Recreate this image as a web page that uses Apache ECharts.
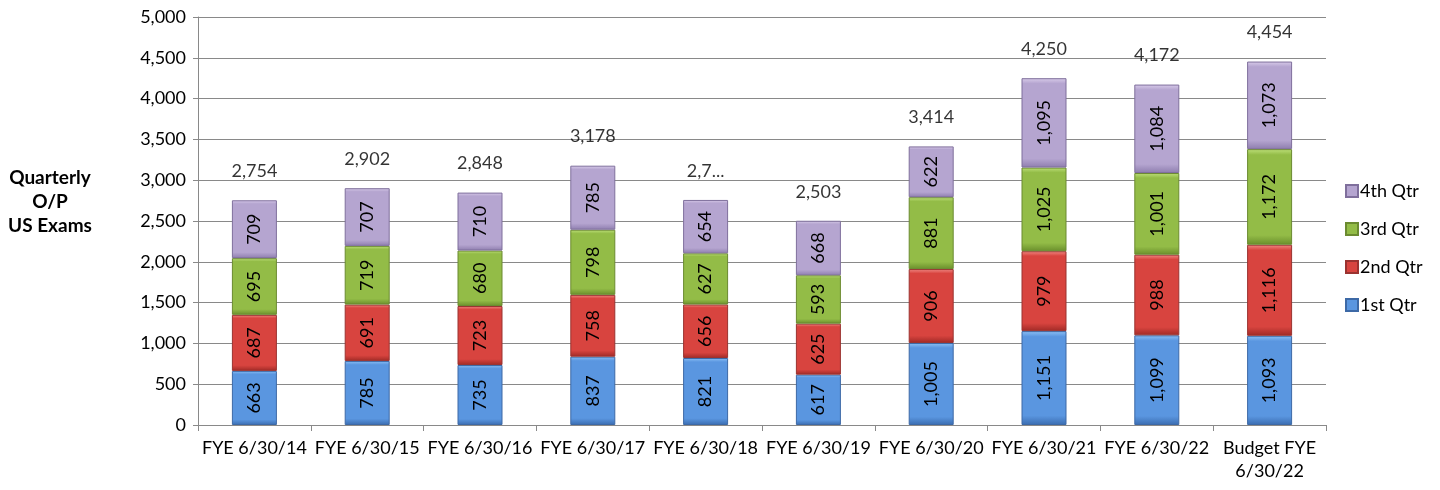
<!DOCTYPE html>
<html>
<head>
<meta charset="utf-8">
<script src="https://cdn.jsdelivr.net/npm/echarts@6/dist/echarts.min.js"></script>
<style>html,body{margin:0;padding:0;background:#fff}#c{width:1440px;height:490px}</style>
</head>
<body>
<div id="c"></div>
<script>
const categories = ['FYE 6/30/14','FYE 6/30/15','FYE 6/30/16','FYE 6/30/17','FYE 6/30/18','FYE 6/30/19','FYE 6/30/20','FYE 6/30/21','FYE 6/30/22','Budget FYE\n6/30/22'];
const q1 = [663, 785, 735, 837, 821, 617, 1005, 1151, 1099, 1093];
const q2 = [687, 691, 723, 758, 656, 625, 906, 979, 988, 1116];
const q3 = [695, 719, 680, 798, 627, 593, 881, 1025, 1001, 1172];
const q4 = [709, 707, 710, 785, 654, 668, 622, 1095, 1084, 1073];
const totalLabels = ['2,754','2,902','2,848','3,178','2,7...','2,503','3,414','4,250','4,172','4,454'];
const seriesNames = ['1st Qtr','2nd Qtr','3rd Qtr','4th Qtr'];
const yTicks = [0, 500, 1000, 1500, 2000, 2500, 3000, 3500, 4000, 4500, 5000];

const FONT = 'Lato, "Open Sans", sans-serif';
const FS = 18;
const palettes = [
  {light:'#8CC0F5', base:'#5A96E0', dark:'#3A6CB0', border:'#3D69A6'},
  {light:'#F08A85', base:'#D8443F', dark:'#A02A26', border:'#9A3330'},
  {light:'#BEE07A', base:'#93BC47', dark:'#6A8F2C', border:'#6B8A30'},
  {light:'#D9CCEA', base:'#B5A5D0', dark:'#8E7DAE', border:'#7F6F9C'}
];
function grad(p){
  return new echarts.graphic.LinearGradient(0,0,0,1,[
    {offset:0, color:p.light},
    {offset:0.06, color:p.base},
    {offset:0.9, color:p.base},
    {offset:1, color:p.dark}
  ]);
}
const dataSets = [q1,q2,q3,q4];
const totals = categories.map((_,i)=>q1[i]+q2[i]+q3[i]+q4[i]);

const series = dataSets.map((d,k)=>({
  name: seriesNames[k],
  type: 'bar',
  stack: 'total',
  barWidth: 45,
  data: d,
  itemStyle: {color: grad(palettes[k]), borderColor: palettes[k].border, borderWidth: 1},
  label: {
    show: true, position: 'inside', rotate: 90,
    color: '#000', fontFamily: FONT, fontSize: FS,
    formatter: p => p.value.toLocaleString('en-US')
  },
  emphasis: {disabled: true}
}));
series.push({
  name: 'Total',
  type: 'scatter',
  symbolSize: 0,
  data: totals,
  label: {
    show: true, position: 'top', distance: 20,
    color: '#000', fontFamily: FONT, fontSize: FS,
    formatter: p => totalLabels[p.dataIndex]
  },
  silent: true
});

const chart = echarts.init(document.getElementById('c'), null, {renderer:'canvas'});
chart.setOption({
  animation: false,
  backgroundColor: '#fff',
  grid: {left: 198, right: 114, top: 17, bottom: 65, containLabel: false},
  legend: {
    data: ['4th Qtr','3rd Qtr','2nd Qtr','1st Qtr'],
    orient: 'vertical',
    left: 1340, top: 176,
    itemWidth: 12, itemHeight: 12, itemGap: 18,
    icon: 'rect',
    textStyle: {fontFamily: FONT, fontSize: FS, color: '#000', lineHeight: 20, padding: [0,0,0,-3]}
  },
  xAxis: {
    type: 'category',
    data: categories,
    axisLine: {lineStyle: {color: '#898989', width: 1}},
    axisTick: {show: true, length: 6, lineStyle: {color: '#898989'}},
    axisLabel: {fontFamily: FONT, fontSize: FS, color: '#000', interval: 0, margin: 12, lineHeight: 23}
  },
  yAxis: {
    type: 'value',
    min: 0, max: 5000, interval: 500,
    axisLine: {show: true, lineStyle: {color: '#898989', width: 1}},
    axisTick: {show: true, length: 5, lineStyle: {color: '#898989'}},
    splitLine: {lineStyle: {color: '#898989', width: 1}},
    axisLabel: {fontFamily: FONT, fontSize: FS, color: '#000', margin: 12,
      formatter: v => yTicks.includes(v) ? v.toLocaleString('en-US') : ''}
  },
  graphic: [{
    type: 'text',
    x: 50, y: 166,
    style: {
      text: 'Quarterly\nO/P\nUS Exams',
      fontFamily: FONT, fontSize: 19, fontWeight: 'bold', fill: '#000',
      align: 'center', verticalAlign: 'top', lineHeight: 24
    }
  }],
  series: series
});
</script>
</body>
</html>
